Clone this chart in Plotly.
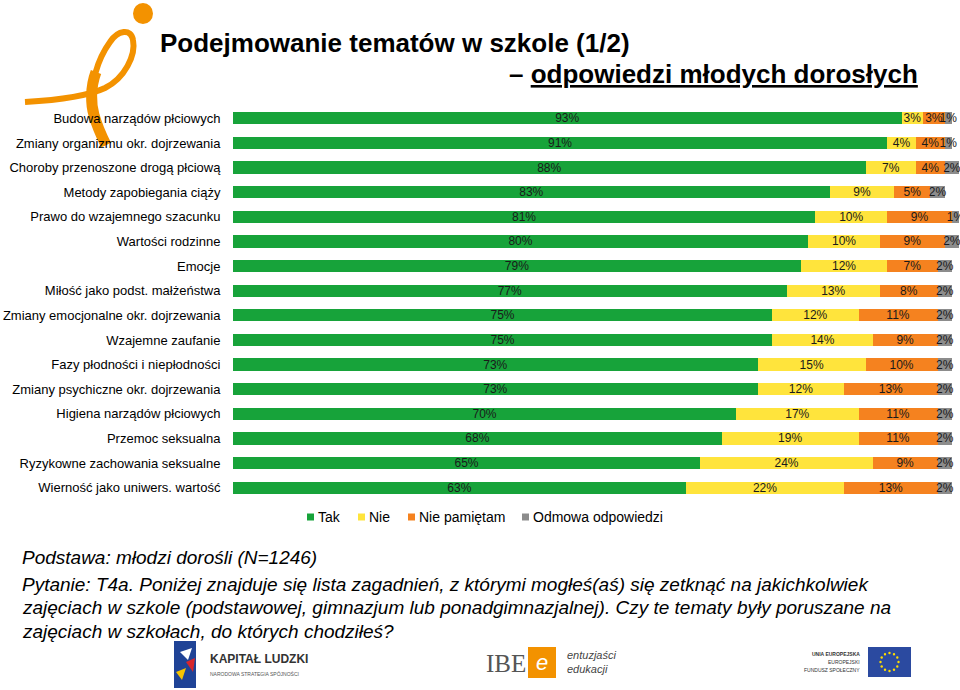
import math
import plotly.graph_objects as go

categories = [
    "Budowa narządów płciowych",
    "Zmiany organizmu okr. dojrzewania",
    "Choroby przenoszone drogą płciową",
    "Metody zapobiegania ciąży",
    "Prawo do wzajemnego szacunku",
    "Wartości rodzinne",
    "Emocje",
    "Miłość jako podst. małżeństwa",
    "Zmiany emocjonalne okr. dojrzewania",
    "Wzajemne zaufanie",
    "Fazy płodności i niepłodności",
    "Zmiany psychiczne okr. dojrzewania",
    "Higiena narządów płciowych",
    "Przemoc seksualna",
    "Ryzykowne zachowania seksualne",
    "Wierność jako uniwers. wartość",
]
tak = [93, 91, 88, 83, 81, 80, 79, 77, 75, 75, 73, 73, 70, 68, 65, 63]
nie = [3, 4, 7, 9, 10, 10, 12, 13, 12, 14, 15, 12, 17, 19, 24, 22]
nie_pamietam = [3, 4, 4, 5, 9, 9, 7, 8, 11, 9, 10, 13, 11, 11, 9, 13]
odmowa = [1, 1, 2, 2, 1, 2, 2, 2, 2, 2, 2, 2, 2, 2, 2, 2]

series_names = ["Tak", "Nie", "Nie pamiętam", "Odmowa odpowiedzi"]
series_values = [tak, nie, nie_pamietam, odmowa]
colors = ["#17a33a", "#ffe43c", "#f5821f", "#8c8c8c"]

W, H = 960, 690
L, R, T, B = 233, 0, 106, 190
PW = W - L - R
PH = H - T - B
FULL_W = 719  # pixel width that corresponds to 100 %
XMAX = 100 * PW / FULL_W


def px(x):
    return (x - L) / PW


def py(y):
    return (H - B - y) / PH


def P(x, y):
    return f"{px(x):.5f},{py(y):.5f}"


fig = go.Figure()
for name, vals, col in zip(series_names, series_values, colors):
    fig.add_trace(go.Bar(
        y=categories, x=vals, name=name, orientation="h",
        marker=dict(color=col, line=dict(width=0)),
        text=[f"{v}%" for v in vals], textposition="inside",
        insidetextanchor="middle", textangle=0, constraintext="none",
        insidetextfont=dict(family="Arial, Liberation Sans", size=12, color="#1a1a1a"),
        cliponaxis=False, showlegend=False, hoverinfo="skip",
    ))

font_main = "Arial, Liberation Sans, sans-serif"
narrow = "Liberation Sans Narrow, Arial Narrow, Liberation Sans, Arial, sans-serif"

annotations = []
shapes = []


def ann(x, y, text, size, xanchor="left", family=font_main, color="#000", **kw):
    annotations.append(dict(
        x=px(x), y=py(y), xref="paper", yref="paper", text=text, showarrow=False,
        xanchor=xanchor, yanchor="middle", font=dict(family=family, size=size, color=color), **kw))


# Title
ann(158, 43, "<b>Podejmowanie tematów w szkole (1/2)</b>", 26)
ann(920, 74, "<b>– <u>odpowiedzi młodych dorosłych</u></b>", 26, xanchor="right")

# Custom legend (squares + labels)
legend_sq_x = [307, 358, 408, 522]
for sx, name, col in zip(legend_sq_x, series_names, colors):
    shapes.append(dict(type="rect", xref="paper", yref="paper",
                       x0=px(sx), x1=px(sx + 7), y0=py(520.5), y1=py(513.5),
                       fillcolor=col, line=dict(width=0)))
    ann(sx + 9, 517, name, 14)

# Footer text
ann(20, 557, "<i>Podstawa: młodzi dorośli (N=1246)</i>", 19, family=narrow)
ann(20, 584, "<i>Pytanie: T4a. Poniżej znajduje się lista zagadnień, z którymi mogłeś(aś) się zetknąć na jakichkolwiek</i>", 19, family=narrow)
ann(20, 607, "<i>zajęciach w szkole (podstawowej, gimnazjum lub ponadgimnazjalnej). Czy te tematy były poruszane na</i>", 19, family=narrow)
ann(20, 631, "<i>zajęciach w szkołach, do których chodziłeś?</i>", 19, family=narrow)

# Orange "e" logo (decoration)
orange = "#f39200"
path = (f"M {P(25,102)} C {P(60,100)} {P(90,95)} {P(105,88)} "
        f"C {P(125,78)} {P(136,55)} {P(133,40)} "
        f"C {P(131,28)} {P(118,30)} {P(110,42)} "
        f"C {P(97,60)} {P(90,85)} {P(93,105)} "
        f"C {P(95,120)} {P(100,132)} {P(106,145)}")
shapes.append(dict(type="path", xref="paper", yref="paper", path=path,
                   line=dict(color=orange, width=6), layer="below"))
path2 = f"M {P(96,72)} C {P(90,88)} {P(91,105)} {P(94,115)} C {P(97,126)} {P(101,135)} {P(106,145)}"
shapes.append(dict(type="path", xref="paper", yref="paper", path=path2,
                   line=dict(color=orange, width=11), layer="below"))
shapes.append(dict(type="circle", xref="paper", yref="paper",
                   x0=px(133), x1=px(153), y0=py(3), y1=py(24),
                   fillcolor=orange, line=dict(width=0), layer="below"))

# Kapitał Ludzki logo
shapes.append(dict(type="rect", xref="paper", yref="paper", x0=px(174), x1=px(196), y0=py(641), y1=py(688),
                   fillcolor="#1f4396", line=dict(width=0)))
shapes.append(dict(type="path", xref="paper", yref="paper",
                   path=f"M {P(176,672)} L {P(186,668)} L {P(182,680)} Z", fillcolor="#f5c400", line=dict(width=0)))
shapes.append(dict(type="path", xref="paper", yref="paper",
                   path=f"M {P(186,662)} L {P(195,658)} L {P(193,672)} Z", fillcolor="#d7262c", line=dict(width=0)))
shapes.append(dict(type="path", xref="paper", yref="paper",
                   path=f"M {P(180,652)} L {P(192,648)} L {P(188,660)} Z", fillcolor="#ffffff", line=dict(width=0)))
ann(208, 659, "<b>KAPITAŁ LUDZKI</b>", 12, color="#333")
ann(208, 673, "NARODOWA STRATEGIA SPÓJNOŚCI", 5, color="#555")

# IBE logo
ann(484, 663, "IBE", 25, family="Liberation Serif, Times New Roman, serif", color="#555")
shapes.append(dict(type="rect", xref="paper", yref="paper", x0=px(528), x1=px(556), y0=py(647), y1=py(678),
                   fillcolor="#f39200", line=dict(width=0)))
ann(542, 662, "<i>e</i>", 22, xanchor="center", color="#fff")
ann(565, 655, "<i>entuzjaści</i>", 11, color="#444")
ann(565, 669, "<i>edukacji</i>", 11, color="#444")

# EU logo
ann(862, 654, "<b>UNIA EUROPEJSKA</b>", 5, xanchor="right", color="#333")
ann(862, 662, "EUROPEJSKI", 5, xanchor="right", color="#333")
ann(862, 670, "FUNDUSZ SPOŁECZNY", 5, xanchor="right", color="#333")
shapes.append(dict(type="rect", xref="paper", yref="paper", x0=px(868), x1=px(911), y0=py(647), y1=py(677),
                   fillcolor="#2b4aa0", line=dict(width=0)))
for k in range(12):
    a = 2 * math.pi * k / 12
    cx = 889.5 + 9 * math.cos(a)
    cy = 662 + 9 * math.sin(a)
    shapes.append(dict(type="circle", xref="paper", yref="paper",
                       x0=px(cx - 1.2), x1=px(cx + 1.2), y0=py(cy - 1.2), y1=py(cy + 1.2),
                       fillcolor="#ffdd00", line=dict(width=0)))

fig.update_layout(
    width=W, height=H,
    margin=dict(l=L, r=R, t=T, b=B, pad=0, autoexpand=False),
    barmode="stack", bargap=0.5,
    plot_bgcolor="white", paper_bgcolor="white",
    xaxis=dict(range=[0, XMAX], visible=False, fixedrange=True, automargin=False),
    yaxis=dict(autorange="reversed", showgrid=False, zeroline=False, showline=False,
               automargin=False, fixedrange=True,
               ticks="outside", ticklen=9, tickcolor="rgba(0,0,0,0)",
               tickfont=dict(family=font_main, size=13, color="#000")),
    showlegend=False,
    uniformtext=dict(mode=False),
    annotations=annotations,
    shapes=shapes,
)

fig.write_html("out.html", config={"displayModeBar": False},
               post_script="document.body.style.margin='0';document.body.style.overflow='hidden';")
